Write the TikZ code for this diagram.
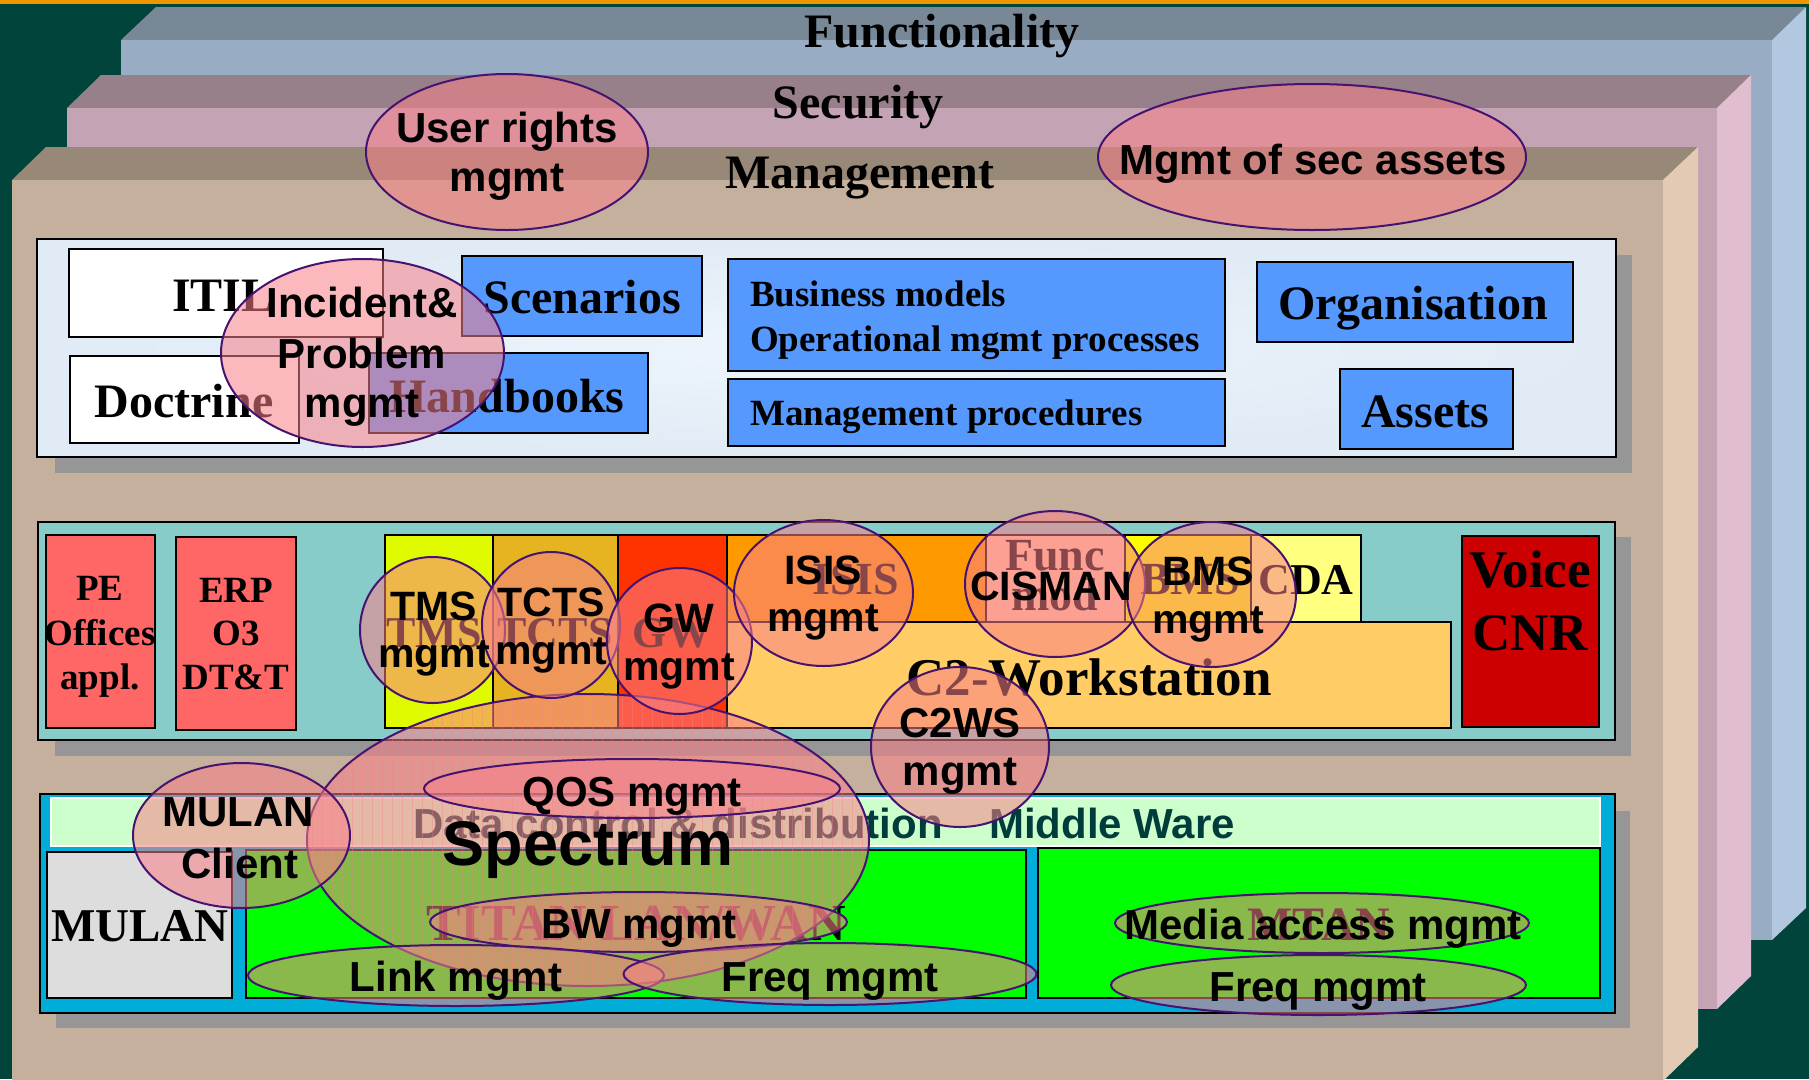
\documentclass[tikz,border=0pt]{standalone}
\usepackage{fontspec}
\setmainfont{Liberation Serif}
\newfontfamily\arfont{Liberation Sans}
\definecolor{bg}{HTML}{00443C}
\definecolor{topline}{HTML}{F09600}
\definecolor{funcFront}{HTML}{98ACC4}
\definecolor{funcTop}{HTML}{788896}
\definecolor{funcSide}{HTML}{B2C8E0}
\definecolor{secFront}{HTML}{C4A4B4}
\definecolor{secTop}{HTML}{98808A}
\definecolor{secSide}{HTML}{E0BED0}
\definecolor{mgmtFront}{HTML}{C4B09C}
\definecolor{mgmtTop}{HTML}{988878}
\definecolor{mgmtSide}{HTML}{E2CAB4}
\definecolor{shadowgray}{HTML}{969696}
\definecolor{panelA}{HTML}{E0EBF5}
\definecolor{panelAlight}{HTML}{EEF5FC}
\definecolor{bluebox}{HTML}{5599FF}
\definecolor{panelB}{HTML}{88CCCA}
\definecolor{redbox}{HTML}{FF6666}
\definecolor{tmscol}{HTML}{E0FA00}
\definecolor{tctscol}{HTML}{E6B420}
\definecolor{gwcol}{HTML}{FF3300}
\definecolor{isiscol}{HTML}{FF9900}
\definecolor{funccol}{HTML}{FFC8A0}
\definecolor{bmscol}{HTML}{FFFF00}
\definecolor{cdacol}{HTML}{FFFF80}
\definecolor{c2col}{HTML}{FFCC66}
\definecolor{voicecol}{HTML}{CC0000}
\definecolor{panelC}{HTML}{00ADD8}
\definecolor{mwgreen}{HTML}{CCFFCC}
\definecolor{mwtext}{HTML}{003C3C}
\definecolor{mulangray}{HTML}{DDDDDD}
\definecolor{brightgreen}{HTML}{00FF00}
\definecolor{ellfill}{HTML}{F88088}
\definecolor{ellline}{HTML}{461470}
\begin{document}
\begin{tikzpicture}[x=1pt,y=-1pt,
  tmx/.style={font=\bfseries\fontsize{#1}{#1}\selectfont, inner sep=0pt, anchor=base},
  tml/.style={font=\bfseries\fontsize{#1}{#1}\selectfont, inner sep=0pt, anchor=base west},
  arx/.style={font=\arfont\bfseries\fontsize{#1}{#1}\selectfont, inner sep=0pt, anchor=base},
  arl/.style={font=\arfont\bfseries\fontsize{#1}{#1}\selectfont, inner sep=0pt, anchor=base west, text=mwtext},
  ellx/.style={fill=ellfill, fill opacity=0.55, draw=ellline, line width=2pt},
  boxx/.style={draw=black, line width=1.5pt},
  panelx/.style={draw=black, line width=2pt},
  shadowx/.style={fill=shadowgray}
]
\useasboundingbox (0,0) rectangle (1809,1079);
\fill[bg] (0,0) rectangle (1809,1079);
\fill[topline] (0,0) rectangle (1809,4);

% Functionality layer
\fill[funcTop] (121,40) -- (156,7) -- (1806,7) -- (1772,40) -- cycle;
\fill[funcSide] (1772,40) -- (1806,7) -- (1806,908) -- (1772,940) -- cycle;
\fill[funcFront] (121,40) rectangle (1772,940);
% Security layer
\fill[secTop] (67,108) -- (101,75) -- (1751,75) -- (1717,108) -- cycle;
\fill[secSide] (1717,108) -- (1751,75) -- (1751,976) -- (1717,1009) -- cycle;
\fill[secFront] (67,108) rectangle (1717,1009);
% Management layer
\fill[mgmtTop] (12,180) -- (46,147) -- (1698,147) -- (1663,180) -- cycle;
\fill[mgmtSide] (1663,180) -- (1698,147) -- (1698,1047) -- (1663,1081) -- cycle;
\fill[mgmtFront] (12,180) rectangle (1663,1081);

\node[tmx=48] (tF) at (942,47) {Functionality};
\node[tmx=48] (tS) at (858,118) {Security};
\node[tmx=48] (tM) at (860,188) {Management};

% Panel 1
\fill[shadowx] (55,255) rectangle (1632,473);
\shade[inner color=panelAlight, outer color=panelA] (37,239) rectangle (1616,457);
\draw[panelx] (37,239) rectangle (1616,457);
\filldraw[boxx, fill=white] (69,249) rectangle (383,337);
\filldraw[boxx, fill=white] (70,356) rectangle (299,443);
\filldraw[boxx, fill=bluebox] (462,256) rectangle (702,336);
\filldraw[boxx, fill=bluebox] (369,353) rectangle (648,433);
\filldraw[boxx, fill=bluebox] (728,259) rectangle (1225,371);
\filldraw[boxx, fill=bluebox] (728,379) rectangle (1225,446);
\filldraw[boxx, fill=bluebox] (1257,262) rectangle (1573,342);
\filldraw[boxx, fill=bluebox] (1340,369) rectangle (1513,449);
\node[tmx=48] (itil) at (223,311) {ITIL};
\node[tmx=48] (doct) at (184,417) {Doctrine};
\node[tmx=48] (scen) at (582,313) {Scenarios};
\node[tmx=48] (hand) at (507,412) {Handbooks};
\node[tml=37] (busm) at (750,306) {Business models};
\node[tml=37] (oper) at (750,351) {Operational mgmt processes};
\node[tml=37] (mproc) at (750,425) {Management procedures};
\node[tmx=48] (orgn) at (1413,319) {Organisation};
\node[tmx=48] (asst) at (1425,427) {Assets};

% Panel 2
\fill[shadowx] (55,537) rectangle (1631,756);
\filldraw[panelx, fill=panelB] (38,522) rectangle (1615,740);
\filldraw[boxx, fill=redbox] (46,535) rectangle (155,728);
\filldraw[boxx, fill=redbox] (176,537) rectangle (296,730);
\filldraw[boxx, fill=tmscol] (385,535) rectangle (493,728);
\filldraw[boxx, fill=tctscol] (493,535) rectangle (618,728);
\filldraw[boxx, fill=gwcol] (618,535) rectangle (727,728);
\filldraw[boxx, fill=isiscol] (727,535) rectangle (986,622);
\filldraw[boxx, fill=funccol] (986,535) rectangle (1125,622);
\filldraw[boxx, fill=bmscol] (1125,535) rectangle (1251,622);
\filldraw[boxx, fill=cdacol] (1251,535) rectangle (1361,622);
\filldraw[boxx, fill=c2col] (727,622) rectangle (1451,728);
\filldraw[boxx, fill=voicecol] (1462,536) rectangle (1599,727);
\node[tmx=37] (pe1) at (100,600) {PE};
\node[tmx=37] (pe2) at (100,645) {Offices};
\node[tmx=37] (pe3) at (100,689) {appl.};
\node[tmx=37] (erp1) at (236,602) {ERP};
\node[tmx=37] (erp2) at (236,645) {O3};
\node[tmx=37] (erp3) at (236,689) {DT\&T};
\node[tmx=44] (tmsl) at (434,647) {TMS};
\node[tmx=44] (tctsl) at (555,647) {TCTS};
\node[tmx=44] (gwl) at (672,647) {GW};
\node[tmx=46] (isisl) at (856,594) {ISIS};
\node[tmx=46] (func1) at (1055,570) {Func};
\node[tmx=46] (func2) at (1055,610) {mod};
\node[tmx=46] (bmsl) at (1190,594) {BMS};
\node[tmx=44] (cdal) at (1306,594) {CDA};
\node[tmx=53] (c2l) at (1089,695) {C2-Workstation};
\node[tmx=53] (voi1) at (1530,587) {Voice};
\node[tmx=53] (voi2) at (1530,650) {CNR};

% Panel 3
\fill[shadowx] (56,811) rectangle (1630,1028);
\filldraw[panelx, fill=panelC] (40,794) rectangle (1615,1013);
\filldraw[draw=white, line width=1.5pt, fill=mwgreen] (51,798) rectangle (1600,846);
\filldraw[boxx, fill=mulangray] (47,852) rectangle (232,998);
\filldraw[boxx, fill=brightgreen] (246,850) rectangle (1026,998);
\filldraw[boxx, fill=brightgreen] (1038,848) rectangle (1600,998);
\node[arl=42] (dcd) at (413,838) {Data control \& distribution};
\node[arl=42] (mware) at (989,838) {Middle Ware};
\node[tmx=47] (mulan) at (140,941) {MULAN};
\node[tmx=52] (titan) at (636,940) {TITAN LAN/WAN};
\node[tmx=48] (mtan) at (1319,940) {MTAN};

% Ellipses
\path[ellx] (507,152) ellipse [x radius=141, y radius=78];
\path[ellx] (1312,157) ellipse [x radius=214, y radius=73];
\path[ellx] (362.5,353) ellipse [x radius=141.5, y radius=94];
\path[ellx] (588,840) ellipse [x radius=281, y radius=146];
\begin{scope}
  \clip (588,840) ellipse [x radius=280, y radius=145];
  \foreach \xx in {312,322,...,868} {
    \draw[ellfill, opacity=0.35, line width=0.8pt] (\xx,694) -- (\xx,986);
  }
\end{scope}
\path[ellx] (432.5,630) ellipse [x radius=72.5, y radius=73];
\path[ellx] (551,625) ellipse [x radius=69, y radius=73];
\path[ellx] (679.5,641) ellipse [x radius=72.5, y radius=73];
\path[ellx] (823.5,593) ellipse [x radius=89.5, y radius=73];
\path[ellx] (1055,584) ellipse [x radius=90, y radius=73];
\path[ellx] (1211.5,594.5) ellipse [x radius=84.5, y radius=72.5];
\path[ellx] (960,747) ellipse [x radius=89, y radius=80];
\path[ellx] (632,788.5) ellipse [x radius=208, y radius=29.5];
\path[ellx] (638.5,922) ellipse [x radius=208.5, y radius=30];
\path[ellx] (456,975.5) ellipse [x radius=208, y radius=30.5];
\path[ellx] (830,974) ellipse [x radius=206.5, y radius=31];
\path[ellx] (241.5,835.5) ellipse [x radius=108.5, y radius=72.5];
\path[ellx] (1322,923) ellipse [x radius=207, y radius=30];
\path[ellx] (1318.5,985) ellipse [x radius=207.5, y radius=30];

% Ellipse labels
\node[arx=42] (ur1) at (507,142) {User rights};
\node[arx=42] (ur2) at (507,191) {mgmt};
\node[arx=42] (msa) at (1313,174) {Mgmt of sec assets};
\node[arx=42] (inc1) at (362,317) {Incident\&};
\node[arx=42] (inc2) at (362,368) {Problem};
\node[arx=42] (inc3) at (362,417) {mgmt};
\node[arx=41] (tms1) at (434,620) {TMS};
\node[arx=41] (tms2) at (434,667) {mgmt};
\node[arx=41] (tcts1) at (551,616) {TCTS};
\node[arx=41] (tcts2) at (551,664) {mgmt};
\node[arx=41] (gw1) at (679,632) {GW};
\node[arx=41] (gw2) at (679,680) {mgmt};
\node[arx=41] (isis1) at (823,584) {ISIS};
\node[arx=41] (isis2) at (823,631) {mgmt};
\node[arx=41] (cism) at (1051,600) {CISMAN};
\node[arx=41] (bms1) at (1208,585) {BMS};
\node[arx=41] (bms2) at (1208,633) {mgmt};
\node[arx=42] (c2ws1) at (960,737) {C2WS};
\node[arx=42] (c2ws2) at (960,785) {mgmt};
\node[arx=63] (spec) at (588,865) {Spectrum};
\node[arx=42] (qos) at (632,806) {QOS mgmt};
\node[arx=42] (bw) at (639,938) {BW mgmt};
\node[arx=42] (link) at (456,991) {Link mgmt};
\node[arx=42] (freqa) at (830,991) {Freq mgmt};
\node[arx=42] (mc1) at (238,826) {MULAN};
\node[arx=42] (mc2) at (240,878) {Client};
\node[arx=42] (media) at (1323,939) {Media access mgmt};
\node[arx=42] (freqb) at (1318,1001) {Freq mgmt};
\end{tikzpicture}
\end{document}
